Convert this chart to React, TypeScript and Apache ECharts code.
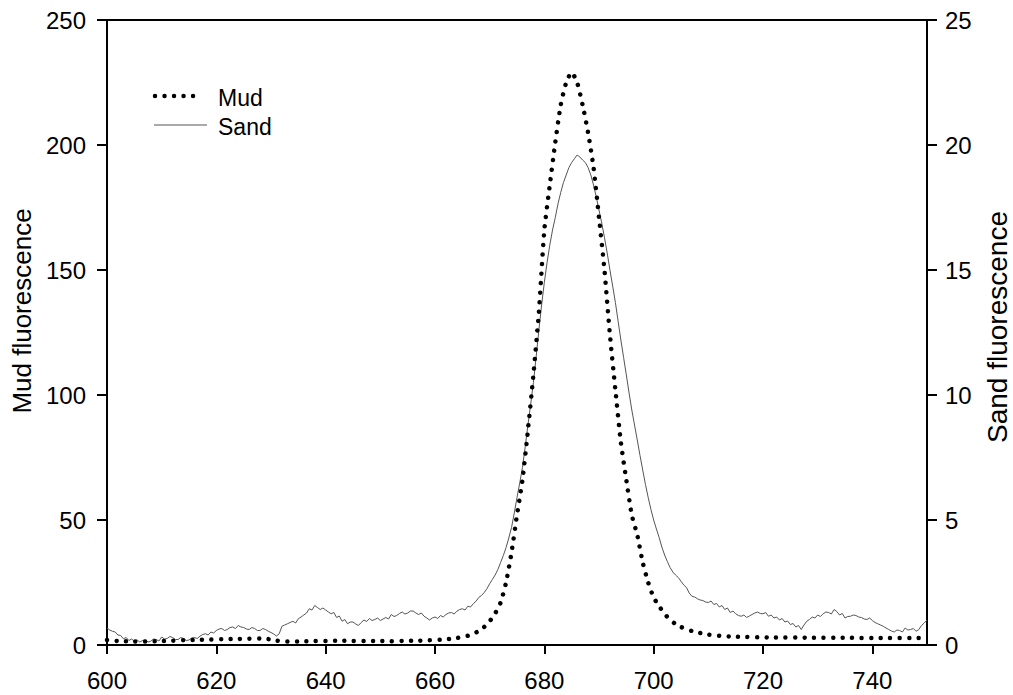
import React, { useEffect, useRef } from "react";
import * as echarts from "echarts";

// Emission wavelength (nm) of the first sample and spacing between samples
const startWavelength = 600;
const mudStep = 1;
const sandStep = 0.5;

// Mud fluorescence (left axis), one value per nm from 600 to 750
const mudValues = [
  2.0, 1.8, 1.6, 1.5, 1.5, 1.4, 1.4, 1.4, 1.5, 1.5,
  1.6, 1.6, 1.7, 1.8, 1.9, 2.0, 2.0, 2.1, 2.1, 2.2,
  2.2, 2.3, 2.3, 2.4, 2.4, 2.5, 2.5, 2.6, 2.6, 2.5,
  2.2, 1.8, 1.5, 1.4, 1.4, 1.4, 1.5, 1.5, 1.6, 1.6,
  1.6, 1.7, 1.7, 1.7, 1.7, 1.6, 1.6, 1.6, 1.6, 1.6,
  1.6, 1.6, 1.5, 1.5, 1.6, 1.6, 1.7, 1.7, 1.8, 1.9,
  2.0, 2.1, 2.3, 2.5, 2.8, 3.2, 3.7, 4.5, 5.6, 7.2,
  9.5, 12.6, 17.0, 25.0, 37.0, 52.0, 66.0, 86.0, 108.0, 133.0,
  166.0, 184.0, 201.0, 216.0, 225.0, 229.0, 225.0, 216.0, 205.0, 191.0,
  171.0, 150.0, 124.0, 102.0, 81.0, 66.0, 52.0, 44.0, 33.0, 25.0,
  19.0, 15.5, 12.5, 10.0, 8.4, 7.2, 6.3, 5.6, 5.0, 4.6,
  4.2, 3.9, 3.7, 3.5, 3.4, 3.3, 3.2, 3.2, 3.1, 3.1,
  3.1, 3.0, 3.0, 3.0, 3.0, 3.0, 3.0, 3.0, 2.9, 2.9,
  2.9, 2.9, 2.9, 2.9, 2.9, 2.9, 2.9, 2.8, 2.8, 2.8,
  2.8, 2.8, 2.8, 2.8, 2.8, 2.8, 2.8, 2.8, 2.8, 2.8,
  2.8,
];

// Sand fluorescence (right axis), one value per 0.5 nm from 600 to 750
const sandValues = [
  0.68, 0.60, 0.55, 0.52, 0.40, 0.38, 0.25, 0.30, 0.18, 0.24,
  0.15, 0.20, 0.12, 0.18, 0.20, 0.12, 0.15, 0.24, 0.22, 0.16,
  0.32, 0.24, 0.26, 0.34, 0.30, 0.22, 0.22, 0.30, 0.26, 0.18,
  0.20, 0.28, 0.30, 0.26, 0.35, 0.42, 0.45, 0.40, 0.52, 0.48,
  0.58, 0.64, 0.66, 0.58, 0.62, 0.70, 0.72, 0.66, 0.78, 0.72,
  0.70, 0.64, 0.62, 0.70, 0.66, 0.58, 0.58, 0.66, 0.62, 0.55,
  0.50, 0.44, 0.36, 0.45, 0.75, 0.80, 0.85, 0.90, 0.95, 0.88,
  1.05, 1.12, 1.20, 1.28, 1.45, 1.40, 1.58, 1.50, 1.42, 1.48,
  1.40, 1.32, 1.25, 1.30, 1.10, 1.16, 0.95, 1.02, 0.85, 0.92,
  0.92, 0.84, 0.78, 0.90, 1.00, 0.94, 1.06, 0.98, 1.02, 1.08,
  0.98, 1.04, 1.10, 1.04, 1.22, 1.14, 1.18, 1.26, 1.32, 1.24,
  1.28, 1.36, 1.36, 1.28, 1.22, 1.28, 1.15, 1.08, 1.00, 1.08,
  1.12, 1.06, 1.18, 1.12, 1.22, 1.28, 1.30, 1.24, 1.35, 1.42,
  1.45, 1.40, 1.55, 1.52, 1.65, 1.75, 1.90, 1.98, 2.10, 2.25,
  2.45, 2.62, 2.80, 3.02, 3.30, 3.58, 3.90, 4.28, 4.70, 5.28,
  5.90, 6.48, 7.10, 7.92, 8.80, 9.62, 10.50, 11.52, 12.60, 13.60,
  14.50, 15.30, 16.00, 16.60, 17.10, 17.65, 18.10, 18.50, 18.80, 19.10,
  19.30, 19.45, 19.60, 19.52, 19.40, 19.30, 19.10, 18.80, 18.40, 17.92,
  17.40, 16.88, 16.30, 15.68, 15.00, 14.36, 13.70, 12.95, 12.20, 11.50,
  10.80, 10.08, 9.40, 8.80, 8.20, 7.58, 7.00, 6.42, 5.90, 5.42,
  5.00, 4.64, 4.30, 3.92, 3.60, 3.34, 3.10, 2.92, 2.80, 2.70,
  2.55, 2.40, 2.30, 2.08, 1.95, 1.92, 1.85, 1.80, 1.78, 1.72,
  1.70, 1.76, 1.62, 1.66, 1.52, 1.58, 1.42, 1.48, 1.30, 1.36,
  1.25, 1.18, 1.15, 1.20, 1.10, 1.16, 1.22, 1.28, 1.32, 1.26,
  1.25, 1.30, 1.15, 1.20, 1.08, 1.12, 1.00, 1.06, 0.92, 0.96,
  0.82, 0.86, 0.72, 0.78, 0.62, 0.80, 0.95, 1.02, 1.12, 1.08,
  1.20, 1.14, 1.25, 1.32, 1.30, 1.24, 1.42, 1.34, 1.20, 1.26,
  1.08, 1.14, 1.15, 1.20, 1.18, 1.12, 1.10, 1.04, 1.02, 1.08,
  0.98, 0.90, 0.85, 0.80, 0.75, 0.68, 0.62, 0.56, 0.52, 0.60,
  0.58, 0.52, 0.68, 0.60, 0.62, 0.66, 0.55, 0.62, 0.78, 0.88,
  1.00,
];

// Axis ticks
const xTicks = [600, 620, 640, 660, 680, 700, 720, 740];
const xMax = 750;
const mudTicks = [0, 50, 100, 150, 200, 250];
const sandTicks = [0, 5, 10, 15, 20, 25];

const FONT = "'Liberation Sans', Arial, Helvetica, sans-serif";
const DOTS = [0.01, 9.5];

const toPairs = (values: number[], step: number) =>
  values.map((v, i) => [startWavelength + i * step, v]);

export default function App() {
  const ref = useRef<HTMLDivElement>(null);

  useEffect(() => {
    if (!ref.current) return;
    const chart = echarts.init(ref.current, undefined, { renderer: "svg" });

    const axisLine = { show: true, lineStyle: { color: "#000", width: 2 } };
    const axisTick = { show: true, inside: false, length: 10, lineStyle: { color: "#000", width: 2 } };
    const labelStyle = { color: "#000", fontSize: 24, fontFamily: FONT, margin: 21 };

    chart.setOption({
      animation: false,
      backgroundColor: "#fff",
      grid: {
        left: 107,
        right: 86,
        top: 20,
        bottom: 50,
        show: true,
        borderColor: "#000",
        borderWidth: 2,
        backgroundColor: "transparent",
      },
      xAxis: {
        type: "value",
        min: xTicks[0],
        max: xMax,
        interval: 20,
        axisLine,
        axisTick: { ...axisTick, length: 9, customValues: xTicks },
        axisLabel: { ...labelStyle, margin: 23, customValues: xTicks },
        splitLine: { show: false },
      },
      yAxis: [
        {
          type: "value",
          min: 0,
          max: mudTicks[mudTicks.length - 1],
          interval: 50,
          position: "left",
          axisLine,
          axisTick,
          axisLabel: labelStyle,
          splitLine: { show: false },
        },
        {
          type: "value",
          min: 0,
          max: sandTicks[sandTicks.length - 1],
          interval: 5,
          position: "right",
          axisLine,
          axisTick,
          axisLabel: { ...labelStyle, margin: 18 },
          splitLine: { show: false },
        },
      ],
      series: [
        {
          name: "Sand",
          type: "line",
          yAxisIndex: 1,
          data: toPairs(sandValues, sandStep),
          showSymbol: false,
          lineStyle: { color: "#555", width: 1 },
          z: 2,
        },
        {
          name: "Mud",
          type: "line",
          yAxisIndex: 0,
          data: toPairs(mudValues, mudStep),
          showSymbol: false,
          smooth: 0.2,
          lineStyle: { color: "#000", width: 4.5, type: DOTS, cap: "round" },
          z: 3,
        },
      ],
      graphic: [
        {
          type: "text",
          x: 22,
          y: 311,
          rotation: Math.PI / 2,
          style: {
            text: "Mud fluorescence",
            fill: "#000",
            font: `26px ${FONT}`,
            align: "center",
            verticalAlign: "middle",
          },
        },
        {
          type: "text",
          x: 997,
          y: 327,
          rotation: Math.PI / 2,
          style: {
            text: "Sand fluorescence",
            fill: "#000",
            font: `28px ${FONT}`,
            align: "center",
            verticalAlign: "middle",
          },
        },
        {
          type: "line",
          shape: { x1: 155, y1: 96, x2: 199, y2: 96 },
          style: { stroke: "#000", lineWidth: 4.5, lineDash: DOTS, lineCap: "round" },
        },
        {
          type: "line",
          shape: { x1: 154, y1: 125, x2: 207, y2: 125 },
          style: { stroke: "#555", lineWidth: 1 },
        },
        {
          type: "text",
          x: 218,
          y: 98,
          style: { text: "Mud", fill: "#000", font: `23px ${FONT}`, verticalAlign: "middle" },
        },
        {
          type: "text",
          x: 218,
          y: 127,
          style: { text: "Sand", fill: "#000", font: `23px ${FONT}`, verticalAlign: "middle" },
        },
      ],
    });

    return () => chart.dispose();
  }, []);

  return <div ref={ref} style={{ width: 1013, height: 695, position: "absolute", left: 0, top: 0 }} />;
}
